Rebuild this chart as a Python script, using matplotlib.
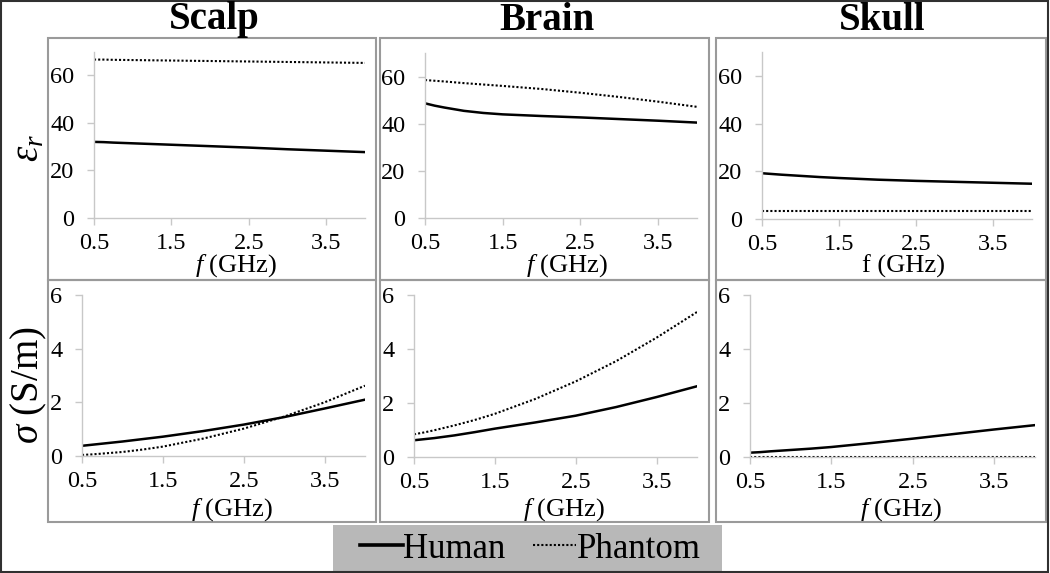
import matplotlib.pyplot as plt
from matplotlib.patches import Rectangle
from matplotlib.lines import Line2D

plt.rcParams['font.family'] = ['Liberation Serif', 'DejaVu Serif']
plt.rcParams['mathtext.fontset'] = 'custom'
plt.rcParams['mathtext.rm'] = 'Liberation Serif'
plt.rcParams['mathtext.it'] = 'Liberation Serif:italic'

W, H = 1050, 573

# frequency points (GHz)
freq = [0.5, 0.625, 0.75, 1.0, 1.25, 1.5, 2.0, 2.5, 3.0, 3.5, 4.0]

# relative permittivity
scalp_er_human = [32.0, 31.9, 31.7, 31.4, 31.1, 30.8, 30.2, 29.6, 28.9, 28.3, 27.7]
scalp_er_phantom = [66.6, 66.6, 66.5, 66.4, 66.3, 66.2, 66.0, 65.8, 65.6, 65.4, 65.2]
brain_er_human = [48.8, 47.8, 47.0, 45.6, 44.7, 44.1, 43.4, 42.8, 42.1, 41.4, 40.6]
brain_er_phantom = [58.7, 58.4, 58.1, 57.4, 56.8, 56.2, 54.9, 53.3, 51.5, 49.5, 47.3]
skull_er_human = [19.2, 18.9, 18.6, 18.1, 17.6, 17.2, 16.5, 16.0, 15.6, 15.2, 14.8]
skull_er_phantom = [3.2, 3.2, 3.2, 3.2, 3.2, 3.2, 3.2, 3.2, 3.2, 3.2, 3.2]

# conductivity (S/m)
scalp_s_human = [0.38, 0.42, 0.46, 0.54, 0.63, 0.72, 0.93, 1.17, 1.45, 1.77, 2.10]
scalp_s_phantom = [0.04, 0.06, 0.09, 0.15, 0.24, 0.35, 0.65, 1.02, 1.47, 2.00, 2.62]
brain_s_human = [0.62, 0.66, 0.70, 0.80, 0.92, 1.05, 1.28, 1.53, 1.85, 2.22, 2.62]
brain_s_phantom = [0.84, 0.91, 0.99, 1.17, 1.37, 1.60, 2.15, 2.80, 3.55, 4.42, 5.37]
skull_s_human = [0.16, 0.18, 0.21, 0.26, 0.31, 0.37, 0.52, 0.68, 0.85, 1.02, 1.18]
skull_s_phantom = [0.01, 0.01, 0.01, 0.01, 0.01, 0.01, 0.01, 0.01, 0.01, 0.01, 0.01]

tissues = ['Scalp', 'Brain', 'Skull']
x_ticks = [0.5, 1.5, 2.5, 3.5]
er_ticks = [0, 20, 40, 60]
s_ticks = [0, 2, 4, 6]

top_data = [(scalp_er_human, scalp_er_phantom),
            (brain_er_human, brain_er_phantom),
            (skull_er_human, skull_er_phantom)]
bot_data = [(scalp_s_human, scalp_s_phantom),
            (brain_s_human, brain_s_phantom),
            (skull_s_human, skull_s_phantom)]

# plot areas in pixels: x of 0.5, x of 4.0, y of ymax, y of 0
top_boxes = [(94, 365, 51.5, 218), (425, 697, 53.5, 218), (762, 1032, 52.2, 219)]
bot_boxes = [(82, 365, 295, 456), (414, 697, 295, 457), (750, 1035, 295, 457)]
# panel frames in pixels: x0, x1
panels_x = [(48, 376), (380, 709), (716, 1046)]
title_x = [214, 547, 882]

fig = plt.figure(figsize=(W / 100, H / 100), dpi=100)


def fx(px):
    return px / W


def fy(py):
    return 1 - py / H


def make_axes(box):
    x0, x1, yt, yb = box
    return fig.add_axes([fx(x0), fy(yb), fx(x1 - x0), (yb - yt) / H])


def style(ax, ymax, yticks):
    ax.set_xlim(0.5, 4.0)
    ax.set_ylim(0, ymax)
    ax.set_xticks(x_ticks)
    ax.set_xticklabels([str(v) for v in x_ticks])
    ax.set_yticks(yticks)
    for s in ['top', 'right']:
        ax.spines[s].set_visible(False)
    for s in ['left', 'bottom']:
        ax.spines[s].set_color('#c8c8c8')
        ax.spines[s].set_linewidth(1.0)
    ax.tick_params(axis='both', colors='#c8c8c8', labelcolor='black',
                   labelsize=17.5, length=5, width=1.0)
    ax.tick_params(axis='y', pad=9)
    ax.tick_params(axis='x', pad=6)
    ax.patch.set_alpha(0)


for i in range(3):
    # panel frames
    for (y0, y1) in [(38, 280), (280, 522)]:
        fig.patches.append(Rectangle((fx(panels_x[i][0]), fy(y1)),
                                     fx(panels_x[i][1] - panels_x[i][0]), (y1 - y0) / H,
                                     transform=fig.transFigure, fill=False,
                                     edgecolor='#9a9a9a', linewidth=1.5))

    ax = make_axes(top_boxes[i])
    hum, ph = top_data[i]
    ax.plot(freq, hum, color='black', lw=1.8)
    ax.plot(freq, ph, color='black', lw=1.5, linestyle=(0, (1, 1)))
    style(ax, 70, er_ticks)
    xl = r'$f\ $(GHz)' if i < 2 else 'f (GHz)'
    cx = (top_boxes[i][0] + top_boxes[i][1]) / 2 + 6
    fig.text(fx(cx), fy(266), xl, fontsize=19, ha='center', va='center')

    ax = make_axes(bot_boxes[i])
    hum, ph = bot_data[i]
    ax.plot(freq, hum, color='black', lw=1.8)
    ax.plot(freq, ph, color='black', lw=1.5, linestyle=(0, (1, 1)))
    style(ax, 6, s_ticks)
    cx = (bot_boxes[i][0] + bot_boxes[i][1]) / 2 + 8
    fig.text(fx(cx), fy(510), r'$f\ $(GHz)', fontsize=19, ha='center', va='center')

    fig.text(fx(title_x[i]), fy(20), tissues[i], fontsize=28, fontweight='bold',
             ha='center', va='center')

# y labels
fig.text(fx(29), fy(148), r'$\varepsilon_r$', fontsize=28, rotation=90,
         ha='center', va='center')
fig.text(fx(29), fy(385), r'$\sigma$ (S/m)', fontsize=28, rotation=90,
         ha='center', va='center')

# legend background
fig.patches.append(Rectangle((fx(333), fy(572)), fx(722 - 333), (572 - 525) / H,
                             transform=fig.transFigure, facecolor='#b8b8b8',
                             edgecolor='none'))
handles = [Line2D([], [], color='black', lw=2.6),
           Line2D([], [], color='black', lw=1.5, linestyle=(0, (1, 1)))]
fig.legend(handles, ['Human', 'Phantom'], loc='center',
           bbox_to_anchor=(fx(530), fy(549)), ncol=2, frameon=False,
           fontsize=25, handlelength=1.25, handletextpad=0.0, columnspacing=0.8,
           borderpad=0, borderaxespad=0)

# outer border
fig.patches.append(Rectangle((fx(1), fy(572)), fx(1047), 571 / H,
                             transform=fig.transFigure, fill=False,
                             edgecolor='#303030', linewidth=1.5))

fig.savefig('out.png', dpi=100)
